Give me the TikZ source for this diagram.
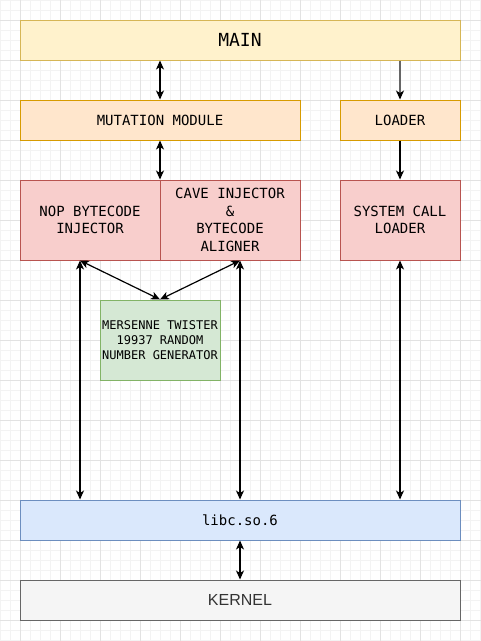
\documentclass[tikz,border=0pt]{standalone}
\usepackage{fontspec}
\setmainfont{Liberation Sans}
\newfontfamily\monofont{DejaVu Sans Mono}
\usepackage{tikz}
\usetikzlibrary{arrows.meta}

\definecolor{mainfill}{HTML}{FFF2CC}
\definecolor{maindraw}{HTML}{D6B656}
\definecolor{modfill}{HTML}{FFE6CC}
\definecolor{moddraw}{HTML}{D79B00}
\definecolor{injfill}{HTML}{F8CECC}
\definecolor{injdraw}{HTML}{B85450}
\definecolor{rngfill}{HTML}{D5E8D4}
\definecolor{rngdraw}{HTML}{82B366}
\definecolor{libfill}{HTML}{DAE8FC}
\definecolor{libdraw}{HTML}{6C8EBF}
\definecolor{kernfill}{HTML}{F5F5F5}
\definecolor{kerndraw}{HTML}{666666}
\definecolor{kerntext}{HTML}{333333}
\definecolor{minorgrid}{HTML}{F3F3F3}
\definecolor{majorgrid}{HTML}{E2E2E2}

\tikzset{
  box/.style={rectangle, line width=1pt, font=\monofont\fontsize{14}{17.5}\selectfont},
  tip/.style={-{Stealth[length=9pt, width=8pt, inset=2.5pt]}},
  dbl/.style={{Stealth[length=9pt, width=8pt, inset=2.5pt]}-{Stealth[length=9pt, width=8pt, inset=2.5pt]}, line width=1.2pt, color=black},
}

\begin{document}
\begin{tikzpicture}
[every node/.style={inner sep=0pt, align=center}]
\useasboundingbox (0pt, 0pt) rectangle (481pt, -641pt);
% grid
\begin{scope}[x=1pt, y=1pt]
\foreach \i in {0,10,...,480} \draw [line width=1pt, color=minorgrid] (\i, 0) -- (\i, -641);
\foreach \i in {0,10,...,640} \draw [line width=1pt, color=minorgrid] (0, -\i) -- (481, -\i);
\foreach \i in {20,60,...,460} \draw [line width=1pt, color=majorgrid] (\i, 0) -- (\i, -641);
\foreach \i in {20,60,...,620} \draw [line width=1pt, color=majorgrid] (0, -\i) -- (481, -\i);
\end{scope}
% boxes
\node (main) [box, minimum width=440pt, minimum height=40pt, fill=mainfill, draw=maindraw, font=\monofont\fontsize{18}{22}\selectfont] at (240pt, -40pt) {MAIN};
\node (mutation) [box, minimum width=280pt, minimum height=40pt, fill=modfill, draw=moddraw] at (160pt, -120pt) {MUTATION MODULE};
\node (loader) [box, minimum width=120pt, minimum height=40pt, fill=modfill, draw=moddraw] at (400pt, -120pt) {LOADER};
\node (nop) [box, minimum width=140pt, minimum height=80pt, fill=injfill, draw=injdraw] at (90pt, -220pt) {NOP BYTECODE\\INJECTOR};
\node (cave) [box, minimum width=140pt, minimum height=80pt, fill=injfill, draw=injdraw] at (230pt, -220pt) {CAVE INJECTOR\\\&\\BYTECODE\\ALIGNER};
\node (syscall) [box, minimum width=120pt, minimum height=80pt, fill=injfill, draw=injdraw] at (400pt, -220pt) {SYSTEM CALL\\LOADER};
\node (mersenne) [box, minimum width=120pt, minimum height=80pt, fill=rngfill, draw=rngdraw, font=\monofont\fontsize{12}{15}\selectfont] at (160pt, -340pt) {MERSENNE TWISTER\\19937 RANDOM\\NUMBER GENERATOR};
\node (libc) [box, minimum width=440pt, minimum height=40pt, fill=libfill, draw=libdraw] at (240pt, -520pt) {libc.so.6};
\node (kernel) [box, minimum width=440pt, minimum height=40pt, fill=kernfill, draw=kerndraw, text=kerntext, font=\fontsize{16}{19}\selectfont] at (240pt, -600pt) {KERNEL};
% connectors
\draw [dbl] (main.south -| mutation.north) -- (mutation.north);
\draw [line width=1.2pt, color=kerndraw, -{Stealth[length=9pt, width=8pt, inset=2.5pt, color=black]}] (main.south -| loader.north) -- (loader.north);
\draw [dbl] (mutation.south) -- (mutation.south |- nop.north);
\draw [tip, line width=1.2pt, color=black] (loader.south) -- (syscall.north);
\draw [dbl] ([xshift=-10pt]nop.south) -- ([xshift=-10pt]nop.south |- libc.north);
\draw [dbl] ([xshift=-10pt]nop.south) -- (mersenne.north);
\draw [dbl] ([xshift=10pt]cave.south) -- (mersenne.north);
\draw [dbl] ([xshift=10pt]cave.south) -- ([xshift=10pt]cave.south |- libc.north);
\draw [dbl] (syscall.south) -- (syscall.south |- libc.north);
\draw [dbl] (libc.south) -- (kernel.north);
\end{tikzpicture}
\end{document}
